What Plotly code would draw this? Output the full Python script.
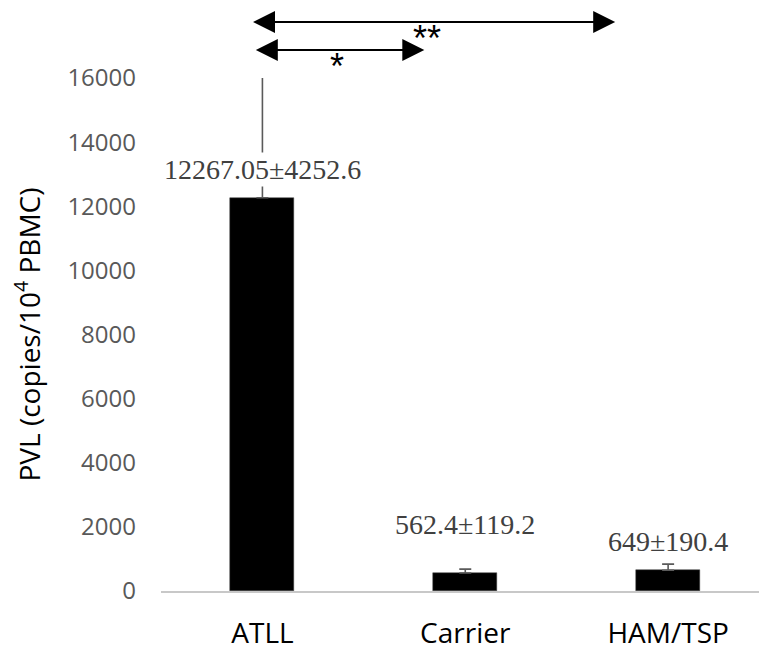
import plotly.graph_objects as go

categories = ["ATLL", "Carrier", "HAM/TSP"]
means = [12267.05, 562.4, 649]
errors = [4252.6, 119.2, 190.4]
value_labels = ["12267.05±4252.6", "562.4±119.2", "649±190.4"]
label_y = [13160, 2060, 1530]
y_ticks = [0, 2000, 4000, 6000, 8000, 10000, 12000, 14000, 16000]

fig = go.Figure()
fig.add_trace(go.Bar(
    x=[0, 1, 2], y=means, width=0.315,
    marker=dict(color="black", line=dict(color="#404040", width=0.5)),
    error_y=dict(type="data", array=errors, arrayminus=[0, 0, 0], symmetric=False,
                 color="#5a5a5a", thickness=1.6, width=6),
    showlegend=False,
))

annotations = []
for i, (t, ly) in enumerate(zip(value_labels, label_y)):
    annotations.append(dict(x=i, y=ly, xref="x", yref="y", text=t, showarrow=False,
                            bgcolor="white",
                            font=dict(family="Liberation Serif", size=28, color="#404040")))

# significance arrows
arrows = [(-0.054, 1.739, 1.109), (-0.04, 0.798, 1.0546)]
for x0, x1, yp in arrows:
    annotations.append(dict(x=x1, y=yp, xref="x", yref="paper", ax=x0, ay=0,
                            axref="x", ayref="pixel", text="", showarrow=True,
                            arrowside="end+start", arrowhead=2, arrowsize=2.2,
                            arrowwidth=2, arrowcolor="black", standoff=0, startstandoff=0))
annotations.append(dict(x=0.813, y=1.121, xref="x", yref="paper", text="**", showarrow=False,
                        font=dict(family="Liberation Sans", size=36, color="black")))
annotations.append(dict(x=0.369, y=1.066, xref="x", yref="paper", text="*", showarrow=False,
                        font=dict(family="Liberation Sans", size=36, color="black")))

fig.update_layout(
    width=759, height=652,
    margin=dict(l=161, r=0, t=78, b=61),
    plot_bgcolor="white", paper_bgcolor="white",
    annotations=annotations,
    bargap=0,
)
fig.update_xaxes(
    range=[-0.5, 2.448], tickmode="array", tickvals=[0, 1, 2], ticktext=categories,
    showline=True, linecolor="#c8c8c8", linewidth=2, showgrid=False, zeroline=False,
    ticks="", ticklabelstandoff=16,
    tickfont=dict(family="Open Sans", size=28, color="black"),
)
fig.update_yaxes(
    range=[0, 16000], tickmode="array", tickvals=y_ticks,
    ticktext=[str(v) for v in y_ticks],
    showline=False, showgrid=False, zeroline=False, ticks="", ticklabelstandoff=24,
    tickfont=dict(family="Open Sans", size=24, color="#595959"),
    title=dict(text="PVL (copies/10<sup>4</sup> PBMC)", standoff=18,
               font=dict(family="Open Sans", size=28, color="black")),
)

fig.write_html("out.html")
